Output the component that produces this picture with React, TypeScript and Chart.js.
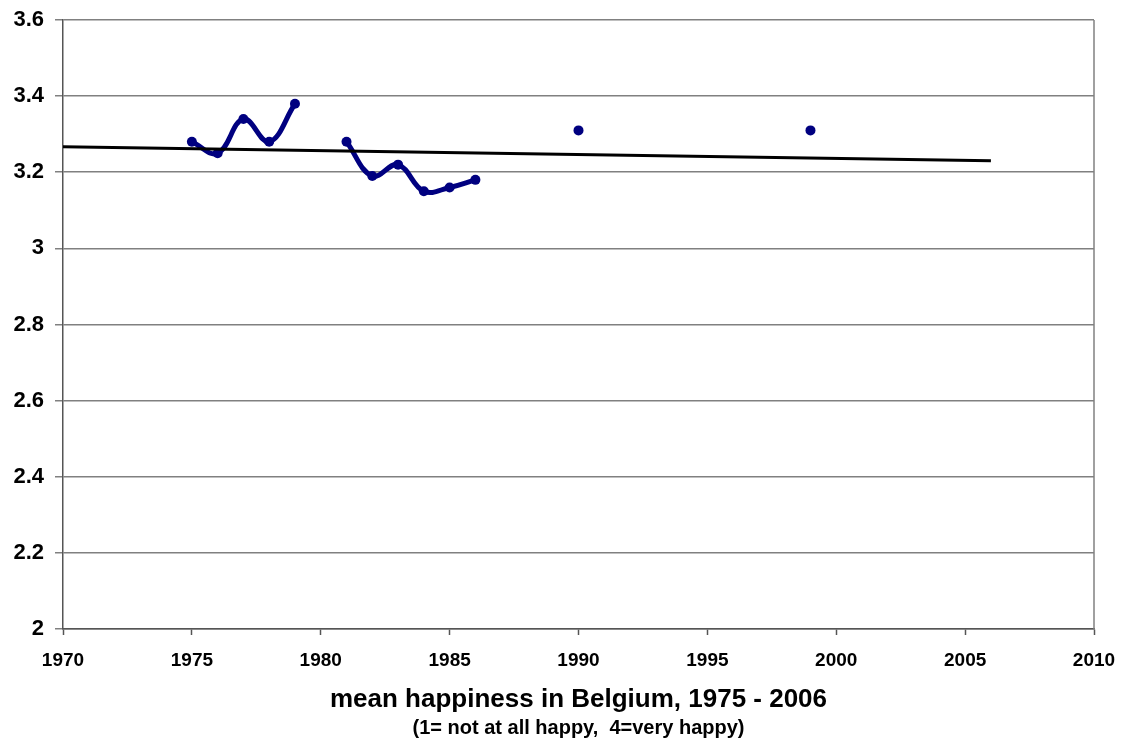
import React, { useEffect, useRef } from "react";
import { Chart, registerables } from "chart.js";

Chart.register(...registerables);

// Survey years and mean happiness (1 = not at all happy, 4 = very happy)
const segment1Years = [1975, 1976, 1977, 1978, 1979];
const segment1Values = [3.28, 3.25, 3.34, 3.28, 3.38];
const segment2Years = [1981, 1982, 1983, 1984, 1985, 1986];
const segment2Values = [3.28, 3.19, 3.22, 3.15, 3.16, 3.18];
const singleYears = [1990, 1999];
const singleValues = [3.31, 3.31];
// Linear trend line
const trendYears = [1970, 2006];
const trendValues = [3.267, 3.23];

const xMin = 1970;
const xMax = 2010;
const xStep = 5;
const yMin = 2;
const yMax = 3.6;
const yStep = 0.2;

const titleText = "mean happiness in Belgium, 1975 - 2006";
const subtitleText = "(1= not at all happy,  4=very happy)";

const NAVY = "#000080";
const FONT = "'Liberation Sans', Arial, sans-serif";

const toPoints = (xs: number[], ys: number[]) => xs.map((x, i) => ({ x, y: ys[i] }));

const rightBorder = {
  id: "rightBorder",
  beforeDatasetsDraw(chart: any) {
    const { ctx, chartArea } = chart;
    ctx.save();
    ctx.strokeStyle = "#808080";
    ctx.lineWidth = 1.5;
    ctx.beginPath();
    ctx.moveTo(chartArea.right, chartArea.top);
    ctx.lineTo(chartArea.right, chartArea.bottom);
    ctx.stroke();
    ctx.restore();
  },
};

export default function App() {
  const ref = useRef<HTMLCanvasElement | null>(null);

  useEffect(() => {
    if (!ref.current) return;
    const seriesStyle = {
      borderColor: NAVY,
      backgroundColor: NAVY,
      borderWidth: 5,
      pointRadius: 5,
      pointBorderWidth: 0,
      pointBackgroundColor: NAVY,
      tension: 0.4,
      order: 1,
    };
    const chart = new Chart(ref.current, {
      type: "scatter",
      data: {
        datasets: [
          {
            data: toPoints(trendYears, trendValues),
            showLine: true,
            borderColor: "#000000",
            borderWidth: 3,
            pointRadius: 0,
            tension: 0,
            order: 0,
          },
          { ...seriesStyle, data: toPoints(segment1Years, segment1Values), showLine: true },
          { ...seriesStyle, data: toPoints(segment2Years, segment2Values), showLine: true },
          { ...seriesStyle, data: toPoints(singleYears, singleValues), showLine: false },
        ],
      },
      options: {
        responsive: false,
        animation: false,
        layout: { padding: { left: 0, right: 30, top: 20, bottom: 2 } },
        plugins: {
          legend: { display: false },
          tooltip: { enabled: false },
          title: { display: false },
          subtitle: {
            display: true,
            position: "bottom",
            fullSize: false,
            text: subtitleText,
            color: "#000",
            font: { family: FONT, size: 20, weight: "bold", lineHeight: 1.2 },
            padding: 0,
          },
        },
        scales: {
          x: {
            type: "linear",
            min: xMin,
            max: xMax,
            ticks: {
              stepSize: xStep,
              color: "#000",
              font: { family: FONT, size: 19, weight: "bold" },
              padding: 14,
              maxRotation: 0,
              callback: (v: any) => String(v),
            },
            grid: {
              drawOnChartArea: false,
              drawTicks: true,
              tickLength: 6,
              tickColor: "#555555",
              tickWidth: 1.5,
            },
            border: { display: true, color: "#555555", width: 1.5 },
            title: {
              display: true,
              text: titleText,
              color: "#000",
              font: { family: FONT, size: 26, weight: "bold", lineHeight: 1.2 },
              padding: { top: 0, bottom: 1 },
            },
            afterFit: (scale: any) => {
              scale.height = 87;
              scale.paddingLeft = 0;
              scale.paddingRight = 0;
            },
          },
          y: {
            type: "linear",
            min: yMin,
            max: yMax,
            ticks: {
              stepSize: yStep,
              color: "#000",
              font: { family: FONT, size: 22, weight: "bold" },
              padding: 11,
              callback: (v: any) => Number(Number(v).toFixed(1)).toString(),
            },
            grid: {
              color: "#808080",
              lineWidth: 1.5,
              drawTicks: true,
              tickLength: 8,
              tickColor: "#808080",
            },
            border: { display: true, color: "#555555", width: 1.5 },
            afterFit: (scale: any) => {
              scale.width = 63;
              scale.paddingTop = 0;
              scale.paddingBottom = 0;
            },
          },
        },
      },
      plugins: [rightBorder],
    } as any);
    return () => chart.destroy();
  }, []);

  return (
    <div style={{ position: "fixed", left: 0, top: 0, width: 1124, height: 742, background: "#fff" }}>
      <canvas ref={ref} width={1124} height={742} style={{ display: "block" }} />
    </div>
  );
}
